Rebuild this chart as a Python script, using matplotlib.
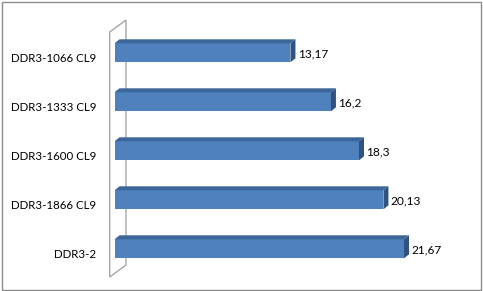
import numpy as np
import matplotlib
matplotlib.use('Agg')
import matplotlib.pyplot as plt
import matplotlib.transforms as mtransforms
from matplotlib.patches import Polygon, Rectangle

categories = ['DDR3-1066 CL9', 'DDR3-1333 CL9', 'DDR3-1600 CL9', 'DDR3-1866 CL9', 'DDR3-2']
values = [13.17, 16.2, 18.3, 20.13, 21.67]
value_labels = ['13,17', '16,2', '18,3', '20,13', '21,67']

plt.rcParams['font.family'] = ['Lato', 'DejaVu Sans']

front = '#4f81bd'
top = '#3d6799'
side = '#2f5280'

fig = plt.figure(figsize=(4.83, 2.91), dpi=100)
# axes placed so 1 unit = ~13.4 px and category spacing = 49 px
ax = fig.add_axes([114.5 / 483, 17.7 / 291, 334 / 483, 245 / 291])
ax.set_xlim(0, 25)
ax.set_ylim(4.5, -0.5)

h = 0.388
y = np.arange(len(categories))
ax.barh(y, values, height=h, color=front, edgecolor='none', zorder=3)

# 3d depth: ~5 px right, ~4 px up
dx = 5 / 13.36
dy = 4 / 49
for yi, v in zip(y, values):
    y0 = yi - h / 2
    y1 = yi + h / 2
    ax.add_patch(Polygon([(0, y0), (v, y0), (v + dx, y0 - dy), (dx, y0 - dy)],
                         closed=True, facecolor=top, edgecolor='none', zorder=3))
    ax.add_patch(Polygon([(v, y0), (v + dx, y0 - dy), (v + dx, y1 - dy), (v, y1)],
                         closed=True, facecolor=side, edgecolor='none', zorder=3))

# back wall of the 3d chart
wall_x0, wall_x1 = -0.36, 0.86
wall = Polygon([(wall_x0, -0.424), (wall_x1, -0.669), (wall_x1, 4.33), (wall_x0, 4.576)],
               closed=True, facecolor='none', edgecolor='#a6a6a6', lw=1.0, zorder=1,
               clip_on=False)
ax.add_patch(wall)

for yi, v, lab in zip(y, values, value_labels):
    ax.annotate(lab, (v, yi), xytext=(5.2, -0.8), textcoords='offset points',
                ha='left', va='center', fontsize=8.6, color='#000000')

ax.set_yticks(y)
ax.set_yticklabels(categories, fontsize=8.3)
ax.tick_params(axis='y', length=0, pad=13.3)
shift = mtransforms.ScaledTranslation(0, -5 / 100, fig.dpi_scale_trans)
for t in ax.get_yticklabels():
    t.set_transform(t.get_transform() + shift)
ax.set_xticks([])
for s in ax.spines.values():
    s.set_visible(False)
ax.patch.set_alpha(0)

fig.patches.append(Rectangle((1.5 / 483, 1.5 / 291), 479 / 483, 288 / 291,
                             transform=fig.transFigure, fill=False,
                             edgecolor='#8c8c8c', lw=1.0))

fig.savefig('out.png', dpi=100)
